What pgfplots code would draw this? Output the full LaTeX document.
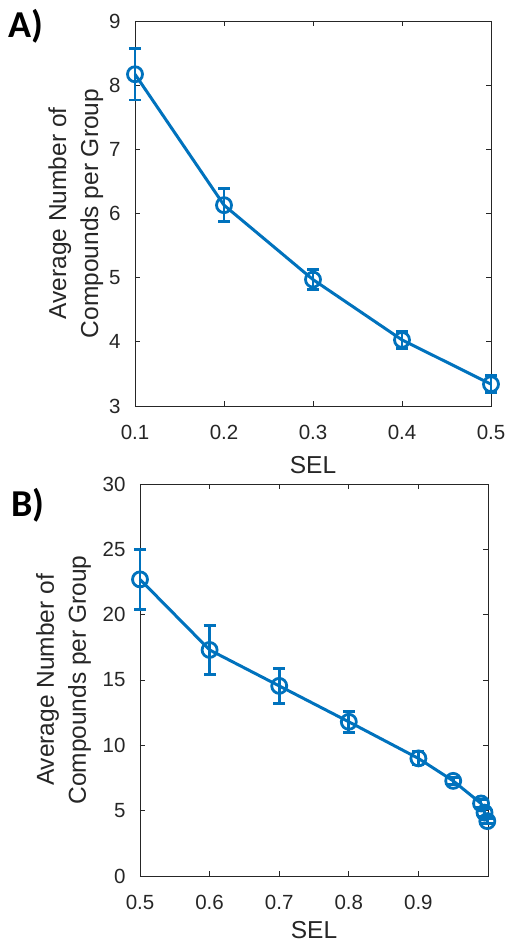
\documentclass[border=0pt]{standalone}
\usepackage{pgfplots}
\pgfplotsset{compat=1.18}
\usepackage{fontspec}
\setmainfont{Liberation Sans}
\newfontfamily\calibri{Carlito}
\definecolor{mblue}{RGB}{0,114,189}
\definecolor{axgray}{RGB}{38,38,38}
\pgfplotsset{
  myax/.style={
    scale only axis,
    anchor=south west,
    axis line style={axgray, line width=0.9pt},
    every tick/.style={axgray, line width=0.9pt},
    major tick length=5pt,
    tick align=inside,
    tick label style={font=\fontsize{20.5}{24}\selectfont, text=axgray},
    xticklabel style={anchor=center, yshift=0pt},
    yticklabel style={anchor=east},
    /pgf/number format/assume math mode=true,
    label style={font=\fontsize{24.5}{32}\selectfont, text=axgray},
    xlabel={SEL},
    ylabel={Average Number of\\Compounds per Group},
    ylabel style={align=center},
  },
  myplot/.style={
    mblue, line width=3pt, mark=o, mark size=7.5pt,
    mark options={line width=2.8pt},
    error bars/.cd, y dir=both, y explicit,
    error bar style={line width=2.8pt, mblue},
    error mark options={rotate=90, mark size=6pt, line width=2.8pt, mblue},
  },
}
\begin{document}
\begin{tikzpicture}[x=1pt,y=1pt]
\useasboundingbox (0,0) rectangle (509,943);
% Panel A
\begin{axis}[myax,
  at={(135pt,537pt)}, width=356pt, height=385pt,
  xmin=0.1, xmax=0.5, ymin=3, ymax=9,
  xtick={0.1,0.2,0.3,0.4,0.5},
  xticklabels={0.1,0.2,0.3,0.4,0.5},
  ytick={3,4,5,6,7,8,9},
  clip=false,
  xticklabel style={at={(axis cs:\tick,3)}, yshift=-26.5pt},
  yticklabel style={at={(axis cs:0.1,\tick)}, xshift=-11pt},
  xlabel style={at={(axis description cs:0.5,-0.153)}, anchor=center},
  ylabel style={at={(axis description cs:-0.166,0.5)}, anchor=center},
]
\addplot+[myplot] coordinates {
  (0.1,8.17) +- (0,0.40)
  (0.2,6.13) +- (0,0.26)
  (0.3,4.97) +- (0,0.16)
  (0.4,4.03) +- (0,0.13)
  (0.5,3.34) +- (0,0.13)
};
\end{axis}
\node[font=\calibri\bfseries\fontsize{38}{40}\selectfont, anchor=base west, inner sep=0pt] at (8,905) {A)};
% Panel B
\begin{axis}[myax,
  at={(140pt,67pt)}, width=348pt, height=392pt,
  xmin=0.5, xmax=1, ymin=0, ymax=30,
  xtick={0.5,0.6,0.7,0.8,0.9},
  xticklabels={0.5,0.6,0.7,0.8,0.9},
  ytick={0,5,10,15,20,25,30},
  clip=false,
  xticklabel style={at={(axis cs:\tick,0)}, yshift=-26.5pt},
  yticklabel style={at={(axis cs:0.5,\tick)}, xshift=-11pt},
  xlabel style={at={(axis description cs:0.5,-0.138)}, anchor=center, inner sep=1pt},
  ylabel style={at={(axis description cs:-0.22,0.5)}, anchor=center},
]
\addplot+[myplot] coordinates {
  (0.5,22.7) +- (0,2.3)
  (0.6,17.3) +- (0,1.9)
  (0.7,14.55) +- (0,1.33)
  (0.8,11.8) +- (0,0.8)
  (0.9,9.0) +- (0,0.5)
  (0.95,7.28) +- (0,0.25)
  (0.99,5.55) +- (0,0.3)
  (0.995,4.85) +- (0,0.3)
  (0.999,4.2) +- (0,0.2)
};
\end{axis}
\node[font=\calibri\bfseries\fontsize{38}{40}\selectfont, anchor=base west, inner sep=0pt] at (11,426) {B)};
\end{tikzpicture}
\end{document}
